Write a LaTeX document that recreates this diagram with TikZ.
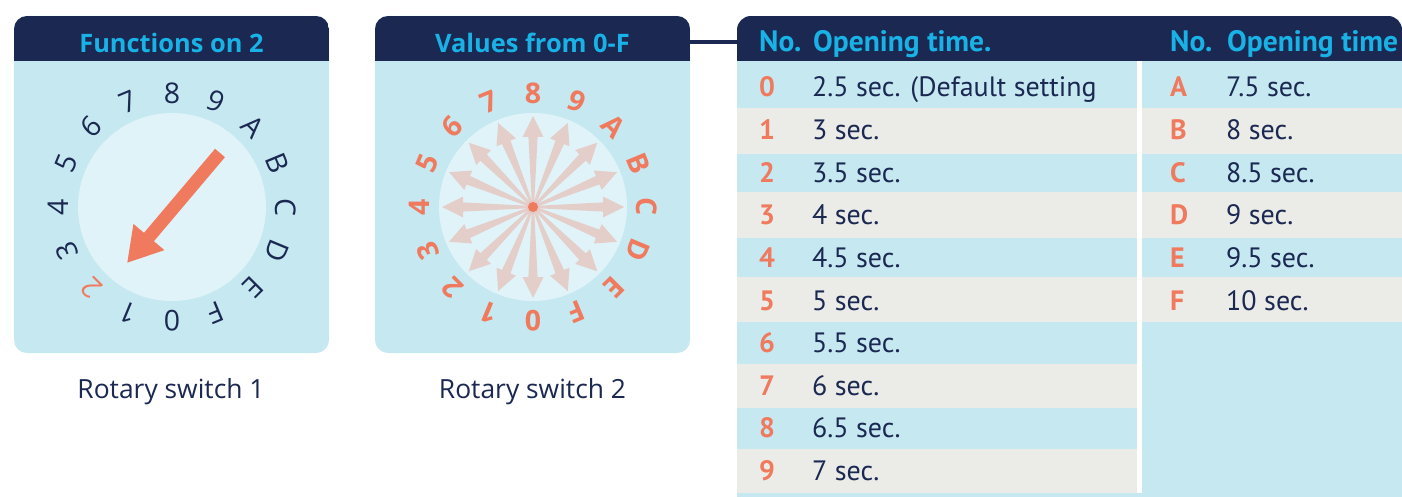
\documentclass[tikz,border=0pt]{standalone}
\usepackage{fontspec}
\setmainfont{Open Sans}
\newfontfamily\tabfont{PT Sans}
\usetikzlibrary{arrows.meta}
\definecolor{navy}{RGB}{27,41,82}
\definecolor{cyanh}{RGB}{24,178,230}
\definecolor{lblue}{RGB}{198,232,240}
\definecolor{inner}{RGB}{224,243,249}
\definecolor{orng}{RGB}{240,122,94}
\definecolor{grayrow}{RGB}{235,235,231}
\tikzset{
  hdr/.style={font=\fontsize{25.4}{27}\selectfont\bfseries, text=cyanh, inner sep=0, anchor=base},
  capt/.style={font=\fontsize{26.4}{28}\selectfont, text=navy, inner sep=0, anchor=base},
  diallab/.style={font=\fontsize{28.5}{30}\selectfont, inner sep=0, anchor=center},
  tabhdr/.style={font=\tabfont\fontsize{29.5}{31}\selectfont\bfseries, text=cyanh, inner sep=0, anchor=base west},
  tabnum/.style={font=\tabfont\fontsize{28}{30}\selectfont\bfseries, text=orng, inner sep=0, anchor=base west},
  tabval/.style={font=\tabfont\fontsize{28}{30}\selectfont, text=navy, inner sep=0, anchor=base west},
}
\begin{document}
\begin{tikzpicture}[x=1pt,y=-1pt]
\useasboundingbox (0,0) rectangle (1402,497);
\fill[white] (0,0) rectangle (1402,497);

% ---------- Panel 1
\fill[lblue, rounded corners=13] (14,16) rectangle (329,353);
\begin{scope}
  \clip[rounded corners=13] (14,16) rectangle (329,353);
  \fill[navy] (14,16) rectangle (329,61);
\end{scope}
\node[hdr] (h1) at (171.5,53) {Functions on 2};
\coordinate (c1) at (172,207);
\fill[inner] (c1) circle[radius=94];
\foreach \lab [count=\k from 0] in {0,1,2,3,4,5,6,7,8,9,A,B,C,D,E,F} {
  \pgfmathsetmacro\ang{22.5*\k+90}
  \pgfmathsetmacro\rot{180-22.5*\k}
  \ifnum\k=2 \def\lc{orng}\else\def\lc{navy}\fi
  \node[diallab, text=\lc, rotate=\rot] (da\k) at ([shift={(\ang:114)}]c1) {\lab};
}
\coordinate (a1s) at (220,153);
\coordinate (a1e) at (127,263);
\draw[orng, line width=13pt, -{Triangle[length=34pt,width=38pt]}] (a1s) -- (a1e);
\node[capt] (cap1) at (171,398) {Rotary switch 1};

% ---------- Panel 2
\fill[lblue, rounded corners=13] (375,16) rectangle (690,353);
\begin{scope}
  \clip[rounded corners=13] (375,16) rectangle (690,353);
  \fill[navy] (375,16) rectangle (690,61);
\end{scope}
\node[hdr] (h2) at (532.5,53) {Values from 0-F};
\coordinate (c2) at (533,207);
\fill[inner] (c2) circle[radius=94];
\foreach \k in {0,...,15} {
  \begin{scope}[shift={(c2)}, rotate=22.5*\k]
    \fill[orng, opacity=0.3] (0,1) -- (70,4.6) -- (70,10.5) -- (91,0) -- (70,-10.5) -- (70,-4.6) -- (0,-1) -- cycle;
  \end{scope}
}
\fill[orng] (c2) circle[radius=5];
\foreach \lab [count=\k from 0] in {0,1,2,3,4,5,6,7,8,9,A,B,C,D,E,F} {
  \pgfmathsetmacro\ang{22.5*\k+90}
  \pgfmathsetmacro\rot{180-22.5*\k}
  \node[diallab, text=orng, font=\fontsize{28.5}{30}\selectfont\bfseries, rotate=\rot] (db\k) at ([shift={(\ang:114)}]c2) {\lab};
}
\node[capt] (cap2) at (532.5,398) {Rotary switch 2};

% ---------- connector
\coordinate (p2e) at (690,42);
\coordinate (tw) at (737,42);
\draw[navy, line width=4pt] (p2e) -- (tw);

% ---------- Table
\begin{scope}
  \clip[rounded corners=14] (737,16) rectangle (1402,540);
  \fill[lblue] (737,16) rectangle (1402,540);
  \fill[navy] (737,16) rectangle (1402,61);
\end{scope}
% left rows
\foreach \ya/\yb/\col in {61/108/lblue,108/154/grayrow,154/192/lblue,192/238/grayrow,238/277/lblue,277/322/grayrow,322/364/lblue,364/408/grayrow,408/449/lblue,449/493/grayrow} {
  \fill[\col] (737,\ya) rectangle (1137,\yb);
}
% right rows
\foreach \ya/\yb/\col in {61/108/lblue,108/154/grayrow,154/192/lblue,192/238/grayrow,238/277/lblue,277/322/grayrow} {
  \fill[\col] (1142,\ya) rectangle (1402,\yb);
}
\fill[white] (1137,61) rectangle (1142,493);

\node[tabhdr] (th1) at (759,52) {No.};
\node[tabhdr] (th2) at (813,52) {Opening time.};
\node[tabhdr] (th3) at (1170,52) {No.};
\node[tabhdr] (th4) at (1227,52) {Opening time};

\foreach \n/\v [count=\k from 0] in {0/{2.5 sec. (Default setting},1/{3 sec.},2/{3.5 sec.},3/{4 sec.},4/{4.5 sec.},5/{5 sec.},6/{5.5 sec.},7/{6 sec.},8/{6.5 sec.},9/{7 sec.}} {
  \pgfmathsetmacro\yy{97+42.6*\k}
  \node[tabnum] (ln\k) at (759,\yy) {\n};
  \node[tabval] (lv\k) at (812,\yy) {\v};
}
\foreach \n/\v [count=\k from 0] in {A/{7.5 sec.},B/{8 sec.},C/{8.5 sec.},D/{9 sec.},E/{9.5 sec.},F/{10 sec.}} {
  \pgfmathsetmacro\yy{97+42.6*\k}
  \node[tabnum] (rn\k) at (1170,\yy) {\n};
  \node[tabval] (rv\k) at (1226,\yy) {\v};
}
\end{tikzpicture}
\end{document}
